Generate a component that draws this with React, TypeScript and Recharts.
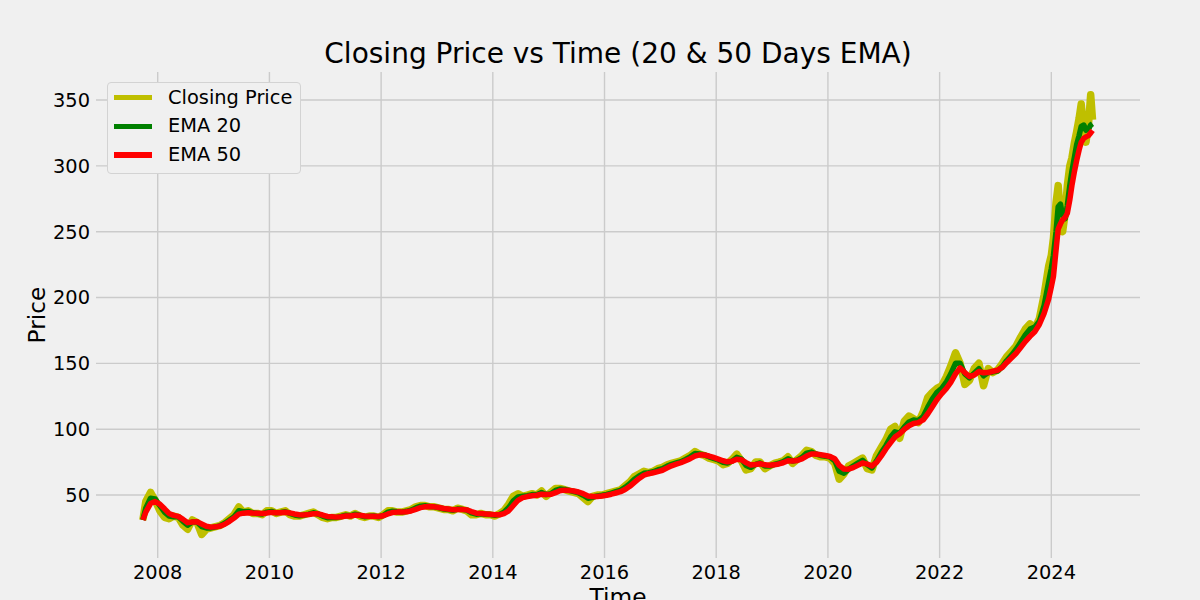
import React from "react";
import { LineChart, Line, XAxis, YAxis, CartesianGrid, Legend } from "recharts";

// sample dates (monthly, twice a month in 2024)
const dates = [
  "2007-09-26", "2007-10-15", "2007-11-15", "2007-12-15",
  "2008-01-15", "2008-02-15", "2008-03-15", "2008-04-15", "2008-05-15", "2008-06-15", "2008-07-15", "2008-08-15", "2008-09-15", "2008-10-15", "2008-11-15", "2008-12-15",
  "2009-01-15", "2009-02-15", "2009-03-15", "2009-04-15", "2009-05-15", "2009-06-15", "2009-07-15", "2009-08-15", "2009-09-15", "2009-10-15", "2009-11-15", "2009-12-15",
  "2010-01-15", "2010-02-15", "2010-03-15", "2010-04-15", "2010-05-15", "2010-06-15", "2010-07-15", "2010-08-15", "2010-09-15", "2010-10-15", "2010-11-15", "2010-12-15",
  "2011-01-15", "2011-02-15", "2011-03-15", "2011-04-15", "2011-05-15", "2011-06-15", "2011-07-15", "2011-08-15", "2011-09-15", "2011-10-15", "2011-11-15", "2011-12-15",
  "2012-01-15", "2012-02-15", "2012-03-15", "2012-04-15", "2012-05-15", "2012-06-15", "2012-07-15", "2012-08-15", "2012-09-15", "2012-10-15", "2012-11-15", "2012-12-15",
  "2013-01-15", "2013-02-15", "2013-03-15", "2013-04-15", "2013-05-15", "2013-06-15", "2013-07-15", "2013-08-15", "2013-09-15", "2013-10-15", "2013-11-15", "2013-12-15",
  "2014-01-15", "2014-02-15", "2014-03-15", "2014-04-15", "2014-05-15", "2014-06-15", "2014-07-15", "2014-08-15", "2014-09-15", "2014-10-15", "2014-11-15", "2014-12-15",
  "2015-01-15", "2015-02-15", "2015-03-15", "2015-04-15", "2015-05-15", "2015-06-15", "2015-07-15", "2015-08-15", "2015-09-15", "2015-10-15", "2015-11-15", "2015-12-15",
  "2016-01-15", "2016-02-15", "2016-03-15", "2016-04-15", "2016-05-15", "2016-06-15", "2016-07-15", "2016-08-15", "2016-09-15", "2016-10-15", "2016-11-15", "2016-12-15",
  "2017-01-15", "2017-02-15", "2017-03-15", "2017-04-15", "2017-05-15", "2017-06-15", "2017-07-15", "2017-08-15", "2017-09-15", "2017-10-15", "2017-11-15", "2017-12-15",
  "2018-01-15", "2018-02-15", "2018-03-15", "2018-04-15", "2018-05-15", "2018-06-15", "2018-07-15", "2018-08-15", "2018-09-15", "2018-10-15", "2018-11-15", "2018-12-15",
  "2019-01-15", "2019-02-15", "2019-03-15", "2019-04-15", "2019-05-15", "2019-06-15", "2019-07-15", "2019-08-15", "2019-09-15", "2019-10-15", "2019-11-15", "2019-12-15",
  "2020-01-15", "2020-02-15", "2020-03-15", "2020-04-15", "2020-05-15", "2020-06-15", "2020-07-15", "2020-08-15", "2020-09-15", "2020-10-15", "2020-11-15", "2020-12-15",
  "2021-01-15", "2021-02-15", "2021-03-15", "2021-04-15", "2021-05-15", "2021-06-15", "2021-07-15", "2021-08-15", "2021-09-15", "2021-10-15", "2021-11-15", "2021-12-15",
  "2022-01-15", "2022-02-15", "2022-03-15", "2022-04-15", "2022-05-15", "2022-06-15", "2022-07-15", "2022-08-15", "2022-09-15", "2022-10-15", "2022-11-15", "2022-12-15",
  "2023-01-15", "2023-02-15", "2023-03-15", "2023-04-15", "2023-05-15", "2023-06-15", "2023-07-15", "2023-08-15", "2023-09-15", "2023-10-15", "2023-11-15", "2023-12-15",
  "2024-01-01", "2024-01-15", "2024-02-01", "2024-02-15", "2024-03-01", "2024-03-15", "2024-04-01", "2024-04-15", "2024-05-01", "2024-05-15",
  "2024-06-01", "2024-06-15", "2024-07-01", "2024-07-15", "2024-08-01", "2024-08-15", "2024-09-01", "2024-09-15", "2024-09-27",
];

const closePrice = [
  31, 45, 52, 46,
  38, 33, 32, 34, 33, 27, 24, 31, 29, 20, 24, 25,
  26, 27, 29, 32, 35, 41, 37, 38, 36, 36, 35, 38,
  38, 36, 37, 38, 35, 34, 34, 35, 36, 37, 35, 33,
  32, 33, 33, 34, 35, 34, 36, 34, 33, 34, 34, 33,
  35, 38, 38, 37, 37, 38, 39, 41, 42, 42, 41, 41,
  40, 39, 39, 38, 40, 39, 38, 35, 35, 36, 35, 35,
  34, 36, 38, 43, 49, 51, 49, 50, 51, 50, 53, 49,
  52, 55, 55, 54, 53, 52, 51, 48, 45, 49, 50, 50,
  51, 52, 53, 54, 57, 60, 64, 66, 68, 67, 68, 70,
  71, 73, 74, 75, 76, 78, 80, 83, 81, 80, 78, 77,
  76, 73, 74, 77, 81, 76, 69, 70, 75, 75, 70, 72,
  74, 75, 76, 79, 74, 77, 80, 84, 83, 80, 79, 79,
  78, 74, 62, 66, 72, 74, 76, 78, 70, 69, 80, 86,
  92, 100, 102, 93, 106, 110, 108, 105, 113, 124, 128, 131,
  133, 140, 148, 158, 150, 134, 137, 146, 150, 133, 146, 143,
  145, 150, 155, 159, 163, 170, 176, 180, 177, 184, 202, 224,
  232, 245, 272, 285, 263, 250, 264, 285, 300, 306,
  318, 326, 336, 347, 326, 318, 332, 354, 335,
];

const ema20 = [
  31, 40, 47.5, 47,
  42, 37, 34, 33.5, 33.5, 30, 27, 29.5, 29.5, 26, 25, 25,
  25.8, 26.8, 28.5, 31, 33.5, 38, 37.3, 37.5, 36.5, 36, 35.5, 37,
  37.5, 36.5, 36.8, 37.3, 36, 34.8, 34.3, 34.8, 35.5, 36.5, 35.6, 34,
  32.8, 33, 33, 33.7, 34.6, 34.2, 35.4, 34.6, 33.5, 33.8, 34, 33.4,
  34.5, 37, 37.7, 37.3, 37, 37.6, 38.5, 40.2, 41.5, 41.8, 41.3, 41,
  40.3, 39.4, 39, 38.4, 39.3, 39.1, 38.5, 36.4, 35.4, 35.8, 35.3, 35.1,
  34.6, 35.3, 37, 40.5, 45.5, 48.5, 49, 49.5, 50.3, 50.2, 51.8, 50.3,
  51, 53.5, 54.5, 54.2, 53.5, 52.6, 51.7, 49.8, 47.5, 48.3, 49.3, 49.8,
  50.5, 51.5, 52.5, 53.5, 55.8, 58.6, 62, 64.5, 66.5, 67, 67.6, 69,
  70, 72, 73.3, 74.3, 75.3, 77, 79, 81.5, 81.2, 80.5, 79, 77.8,
  76.6, 74.8, 74.3, 75.8, 78.6, 77.3, 72.5, 71, 73.3, 74.3, 72, 72,
  73.2, 74.3, 75.3, 77.5, 75.8, 76.5, 78.5, 81.8, 82.6, 81.2, 80, 79.5,
  78.8, 76, 68, 66.5, 69.5, 72, 74.2, 76.3, 73, 70.6, 76, 82,
  87.5, 94, 98, 97, 101.5, 105.5, 107, 106.5, 109.5, 116.5, 123, 128,
  131, 136, 142, 150, 150, 142, 139, 142.5, 146, 140.5, 143, 143.5,
  144.2, 147.5, 152, 156, 160.5, 166, 171.5, 176, 177.5, 182, 194, 212,
  222, 232, 250, 269, 271, 262, 260, 270, 285, 296,
  307, 316, 323, 330, 331, 327, 328, 331, 332,
];

const ema50 = [
  31, 37, 43.5, 45,
  43, 39.5, 36, 34.5, 33.8, 31.5, 29, 29.5, 29.7, 28, 26.3, 25.6,
  25.8, 26.5, 27.8, 30, 32.5, 35.5, 36.2, 36.5, 36.3, 36.2, 35.9, 36.3,
  36.8, 36.6, 36.6, 36.9, 36.4, 35.6, 35, 34.9, 35.2, 35.8, 35.7, 34.8,
  33.7, 33.4, 33.2, 33.5, 34.1, 34.1, 34.7, 34.6, 34, 33.9, 33.9, 33.7,
  34.2, 35.6, 36.7, 37, 37, 37.3, 37.9, 39.1, 40.4, 41.1, 41.2, 41,
  40.5, 39.8, 39.3, 38.8, 39, 39, 38.7, 37.4, 36.2, 35.9, 35.6, 35.3,
  35, 35, 35.9, 38, 42, 46, 48, 48.8, 49.4, 49.8, 50.6, 50.4,
  50.5, 51.8, 53.3, 53.7, 53.5, 53, 52.3, 51, 49.3, 48.8, 48.9, 49.3,
  49.8, 50.6, 51.5, 52.5, 54.2, 56.6, 59.6, 62.6, 65, 66.2, 66.9, 67.8,
  68.8, 70.6, 72.2, 73.4, 74.5, 76, 77.6, 79.6, 80.5, 80.4, 79.6, 78.5,
  77.3, 76, 75.2, 75.6, 77.2, 76.8, 74.6, 72.8, 73.2, 73.8, 72.9, 72.6,
  72.9, 73.6, 74.5, 76, 75.8, 76.2, 77.4, 79.6, 81.2, 81.1, 80.6, 80,
  79.3, 77.6, 72.5, 69.8, 69.6, 70.8, 72.5, 74.3, 73.5, 72, 74.8, 79.5,
  85, 89.8, 94, 96.5, 99.8, 102.6, 104.3, 105, 107, 111.5, 117, 122.5,
  127, 131, 135.5, 142, 146.5, 143, 140, 141, 143.8, 142.8, 143, 144,
  144.8, 147, 150.5, 154, 157.5, 162, 166.5, 170.5, 174, 179.5, 188, 199,
  208, 216, 236, 252, 256, 259, 261, 264, 274, 285,
  296, 304, 312, 318, 321, 322, 323, 325, 327,
];

const yearTicks = [2008, 2010, 2012, 2014, 2016, 2018, 2020, 2022, 2024];
const priceTicks = [50, 100, 150, 200, 250, 300, 350];

const X_DOMAIN: [number, number] = [2006.895, 2025.588];
const Y_DOMAIN: [number, number] = [2.15, 371.3];

const FONT = '"DejaVu Sans", Verdana, sans-serif';

// "YYYY-MM-DD" -> fractional year so the time axis can be numeric
function toYear(d: string) {
  const [y, m, day] = d.split("-").map(Number);
  const start = Date.UTC(y, 0, 1);
  const end = Date.UTC(y + 1, 0, 1);
  return y + (Date.UTC(y, m - 1, day) - start) / (end - start);
}

const rows = dates.map((d, i) => ({
  t: toYear(d),
  close: closePrice[i],
  ema20: ema20[i],
  ema50: ema50[i],
}));

// grid only at the tick values (no frame round the plot)
const gridX = (p: any) => {
  const s = p?.xAxis?.scale;
  if (typeof s === "function") return yearTicks.map((t) => s(t));
  const o = p.offset;
  return yearTicks.map((t) => o.left + ((t - X_DOMAIN[0]) / (X_DOMAIN[1] - X_DOMAIN[0])) * o.width);
};
const gridY = (p: any) => {
  const s = p?.yAxis?.scale;
  if (typeof s === "function") return priceTicks.map((v) => s(v));
  const o = p.offset;
  return priceTicks.map((v) => o.top + ((Y_DOMAIN[1] - v) / (Y_DOMAIN[1] - Y_DOMAIN[0])) * o.height);
};

function LegendBox(props: any) {
  const items = props.payload || [];
  return (
    <div
      style={{
        width: 194,
        height: 92,
        boxSizing: "border-box",
        border: "1px solid #d3d3d3",
        borderRadius: 4,
        background: "#f0f0f0",
        position: "relative",
        fontFamily: FONT,
        fontSize: 19.4,
        color: "#000",
      }}
    >
      {items.map((it: any, i: number) => (
        <div
          key={it.value}
          style={{
            position: "absolute",
            left: 6,
            top: 0.7 + i * 28.7,
            height: 28,
            display: "flex",
            alignItems: "center",
            whiteSpace: "nowrap",
          }}
        >
          <span style={{ display: "inline-block", width: 38, height: 5.5, background: it.color }} />
          <span style={{ marginLeft: 16, lineHeight: "28px" }}>{it.value}</span>
        </div>
      ))}
    </div>
  );
}

export default function App() {
  const tickStyle = { fill: "#000", fontSize: 19.4, fontFamily: FONT };
  return (
    <div
      style={{
        position: "fixed",
        left: 0,
        top: 0,
        width: 1200,
        height: 600,
        background: "#f0f0f0",
        overflow: "hidden",
      }}
    >
      <LineChart width={1200} height={600} data={rows} margin={{ top: 72, right: 60, bottom: 0, left: 0 }}>
        <CartesianGrid
          stroke="#cbcbcb"
          strokeWidth={1.4}
          verticalCoordinatesGenerator={gridX}
          horizontalCoordinatesGenerator={gridY}
        />
        <XAxis
          type="number"
          dataKey="t"
          domain={X_DOMAIN}
          ticks={yearTicks}
          interval={0}
          allowDataOverflow
          axisLine={false}
          tickLine={false}
          tickSize={0}
          tickMargin={7}
          height={42}
          tick={tickStyle}
          tickFormatter={(v) => String(v)}
        />
        <YAxis
          type="number"
          domain={Y_DOMAIN}
          ticks={priceTicks}
          interval={0}
          allowDataOverflow
          axisLine={false}
          tickLine={false}
          tickSize={0}
          tickMargin={6}
          width={96}
          tick={tickStyle}
        />
        <Legend
          layout="vertical"
          align="center"
          verticalAlign="middle"
          content={<LegendBox />}
          wrapperStyle={{ left: 107, top: 82, width: 194, height: 92 }}
        />
        <Line
          type="linear"
          dataKey="close"
          name="Closing Price"
          stroke="#bfbf00"
          strokeWidth={7.5}
          strokeLinejoin="round"
          dot={false}
          activeDot={false}
          isAnimationActive={false}
        />
        <Line
          type="linear"
          dataKey="ema20"
          name="EMA 20"
          stroke="#008000"
          strokeWidth={5.5}
          strokeLinejoin="round"
          dot={false}
          activeDot={false}
          isAnimationActive={false}
        />
        <Line
          type="linear"
          dataKey="ema50"
          name="EMA 50"
          stroke="#ff0000"
          strokeWidth={5.5}
          strokeLinejoin="round"
          dot={false}
          activeDot={false}
          isAnimationActive={false}
        />
      </LineChart>
      <svg
        width={1200}
        height={600}
        style={{ position: "absolute", left: 0, top: 0, pointerEvents: "none" }}
        fontFamily={FONT}
        fill="#000"
      >
        <text x={618} y={63.3} textAnchor="middle" fontSize={28}>
          {"Closing Price vs Time (20 & 50 Days EMA)"}
        </text>
        <text x={618} y={605.3} textAnchor="middle" fontSize={23.3}>
          Time
        </text>
        <text transform="translate(45,315) rotate(-90)" textAnchor="middle" fontSize={23.3}>
          Price
        </text>
      </svg>
    </div>
  );
}
